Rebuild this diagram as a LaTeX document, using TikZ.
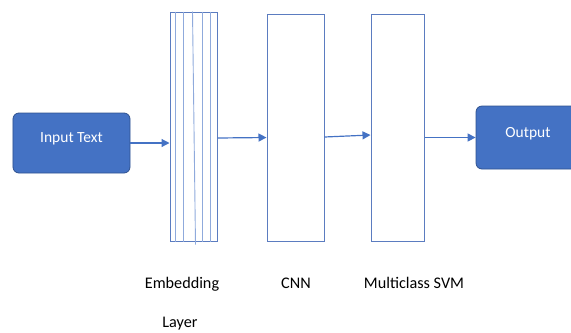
\documentclass[tikz,border=0pt]{standalone}
\usepackage{fontspec}
\setmainfont{Carlito}
\usetikzlibrary{positioning,arrows.meta}

\definecolor{boxblue}{HTML}{4472C4}
\definecolor{boxedge}{HTML}{2F528F}
\definecolor{layeredge}{HTML}{5B7CC0}
\definecolor{layerline}{HTML}{8FAADC}

\newcommand{\boxtext}[1]{\raisebox{11bp}{#1}}

\begin{document}
\begin{tikzpicture}[x=1bp, y=-1bp,
        io/.style={rectangle, rounded corners=6bp, draw=boxedge, fill=boxblue, line width=0.8bp, text=white, font=\fontsize{15.5bp}{18bp}\selectfont, inner sep=0pt},
        layer/.style={rectangle, draw=layeredge, line width=1bp, inner sep=0pt},
        caption/.style={font=\fontsize{16.2bp}{19bp}\selectfont, anchor=base, inner sep=0pt},
        flow/.style={-{Triangle[length=8bp, width=8bp]}, draw=boxblue, line width=1.2bp},
        stripe/.style={draw=layerline, line width=0.9bp}
    ]
    \useasboundingbox (0,0) rectangle (571,332);
    \clip (0,0) rectangle (571,332);

    \node[io]    (inp) at (71.5,143)   [minimum width=117bp, minimum height=60bp] {\boxtext{Input Text}};
    \node[layer] (emb) at (193.5,126.5) [minimum width=47bp, minimum height=229bp] {};
    \node[layer] (cnn) at (295.5,127.5) [minimum width=57bp, minimum height=227bp] {};
    \node[layer] (svm) at (397.5,127.5) [minimum width=53bp, minimum height=227bp] {};
    \node[io]    (out) at (528,137.5)   [minimum width=104bp, minimum height=63bp] {\boxtext{Output}};

    % stripes of the embedding layer
    \foreach \dx in {6,14,33,41}
        \draw[stripe] ([xshift=\dx bp]emb.north west) -- ([xshift=\dx bp]emb.south west);
    \draw[stripe] ([xshift=23bp]emb.north west) -- ([xshift=26bp, yshift=-3bp]emb.south west);

    \node[caption] (lemb) at (182,288) {Embedding};
    \node[caption] (llay) at (180,327) {Layer};
    \node[caption] (lcnn) at (296,288) {CNN};
    \node[caption] (lsvm) at (414,288) {Multiclass SVM};

    \draw[flow] (inp.east) -- (inp.east -| emb.west);
    \draw[flow] ([yshift=-11.5bp]emb.east) -- ([yshift=-10bp]cnn.west);
    \draw[flow] ([yshift=-9.5bp]cnn.east) -- ([yshift=-7.5bp]svm.west);
    \draw[flow] (svm.east |- out.west) -- (out.west);
\end{tikzpicture}
\end{document}
